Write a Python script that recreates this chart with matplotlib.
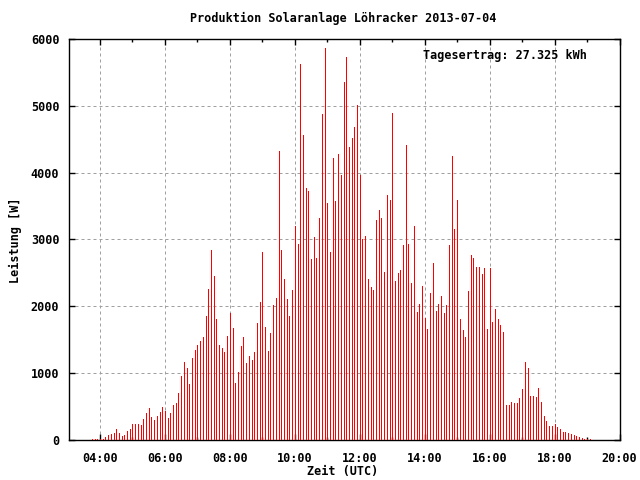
import matplotlib
matplotlib.use("Agg")
import matplotlib.pyplot as plt
import matplotlib.dates as mdates
import pandas as pd

# Messwerte alle 5 Minuten ab 03:45 UTC
start_time = "2013-07-04 03:45"
power_w = [
    20, 20, 20, 15, 20, 50, 80, 95, 110, 170, 110, 65,          # 03:45 - 04:40
    80, 140, 170, 245, 245, 245, 230, 320, 410, 480, 350, 305,  # 04:45 - 05:40
    365, 425, 500, 440, 335, 410, 530, 555, 700, 955, 1165, 1075,  # 05:45 - 06:40
    835, 1225, 1345, 1420, 1480, 1540, 1850, 2255, 2850, 2450, 1805, 1420,  # 06:45 - 07:40
    1375, 1315, 1550, 1895, 1670, 850, 1015, 1405, 1540, 1150, 1255, 1195,  # 07:45 - 08:40
    1315, 1745, 2060, 2820, 1685, 1330, 1600, 2020, 2125, 4318, 2840, 2408,  # 08:45 - 09:40
    2110, 1855, 2244, 3200, 2930, 5632, 4557, 3766, 3721, 2706, 3035, 2721,  # 09:45 - 10:40
    3318, 4885, 5870, 3542, 2811, 4214, 3572, 4274, 3960, 5363, 5736, 4378,  # 10:45 - 11:40
    4512, 4677, 5005, 3960, 3005, 3050, 2408, 2289, 2244, 3288, 3438, 3318,  # 11:45 - 12:40
    2512, 3662, 3587, 4900, 2378, 2497, 2542, 2915, 4408, 2930, 2348, 3199,  # 12:45 - 13:40
    1915, 2035, 2303, 1826, 1662, 2199, 2647, 1930, 2035, 2154, 1900, 2020,  # 13:45 - 14:40
    2915, 4244, 3154, 3587, 1811, 1647, 1542, 2229, 2766, 2721, 2587, 2587,  # 14:45 - 15:40
    2483, 2572, 1662, 2572, 1766, 1960, 1811, 1721, 1617, 527, 527, 572,    # 15:45 - 16:40
    557, 557, 632, 766, 1169, 1080, 660, 660, 645, 780, 567, 358,           # 16:45 - 17:40
    284, 209, 209, 239, 194, 164, 119, 119, 104, 90, 75, 60,                # 17:45 - 18:40
    45, 30, 15, 20, 15,                                                     # 18:45 - 19:05
]
title = "Produktion Solaranlage Löhracker 2013-07-04"
ertrag_text = "Tagesertrag: 27.325 kWh"

times = pd.date_range(start_time, periods=len(power_w), freq="5min")

font = {"family": "DejaVu Sans Mono", "weight": "bold", "size": 8.5}
plt.rcParams["font.family"] = "DejaVu Sans Mono"
plt.rcParams["font.weight"] = "bold"
plt.rcParams["font.size"] = 8.5

fig = plt.figure(figsize=(6.4, 4.8), dpi=100)
ax = fig.add_axes([69 / 640, 40 / 480, 550.5 / 640, 401 / 480])

# Impulse, 1 Pixel breit
ax.vlines(times, 0, power_w, colors="#ff0000", linewidth=0.72, antialiased=False, zorder=3)

ax.set_xlim(pd.Timestamp("2013-07-04 03:02:40"), pd.Timestamp("2013-07-04 20:00"))
ax.set_ylim(0, 6000)

ax.xaxis.set_major_locator(mdates.HourLocator(byhour=range(0, 24, 2)))
ax.xaxis.set_minor_locator(mdates.HourLocator())
ax.xaxis.set_major_formatter(mdates.DateFormatter("%H:%M"))
ax.set_yticks(range(0, 6001, 1000))

ax.tick_params(which="major", direction="in", length=4.5, width=1, top=True, right=True,
               color="black", labelsize=8.5)
ax.tick_params(which="minor", direction="in", length=2.5, width=1, top=True, right=True)
ax.tick_params(axis="x", pad=9)
ax.tick_params(axis="y", pad=7)

# gepunktetes Gitter wie bei gnuplot
ax.grid(True, which="major", color="#a0a0a0", linewidth=0.72, linestyle=(0, (3, 3)))
ax.set_axisbelow(True)
for s in ax.spines.values():
    s.set_linewidth(1.0)

fig.text(343 / 640, 1 - 18 / 480, title, ha="center", va="center", fontdict=font)
fig.text(343 / 640, 1 - 472 / 480, "Zeit (UTC)", ha="center", va="center", fontdict=font)
fig.text(15 / 640, 1 - 240 / 480, "Leistung [W]", ha="center", va="center",
         rotation=90, fontdict=font)
fig.text(587 / 640, 1 - 56 / 480, ertrag_text, ha="right", va="center", fontdict=font)

fig.savefig("out.png", dpi=100)
